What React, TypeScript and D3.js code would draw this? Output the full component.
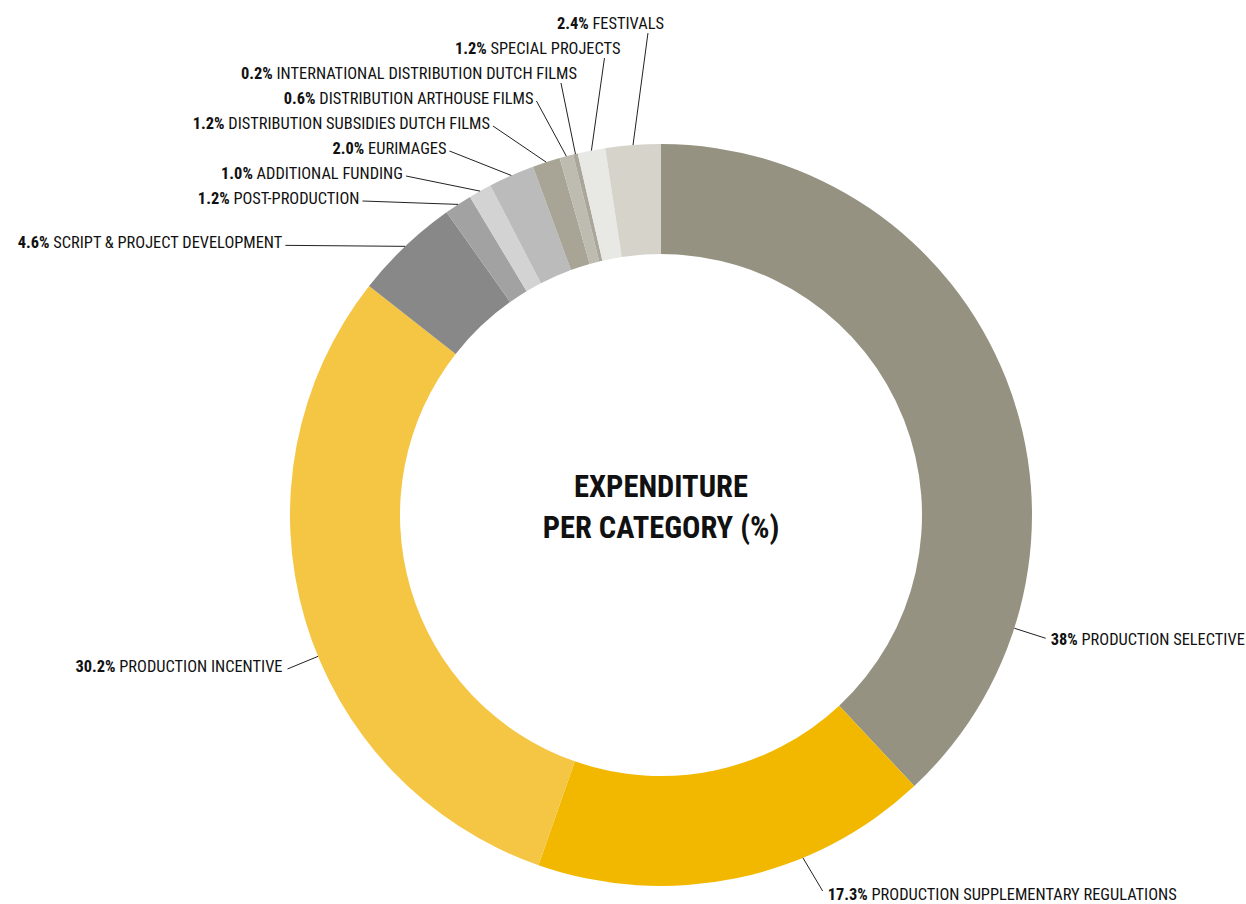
import React, { useRef, useEffect } from 'react';
import * as d3 from 'd3';

// data, clockwise from 12 o'clock
const categories = [
  'PRODUCTION SELECTIVE',
  'PRODUCTION SUPPLEMENTARY REGULATIONS',
  'PRODUCTION INCENTIVE',
  'SCRIPT & PROJECT DEVELOPMENT',
  'POST-PRODUCTION',
  'ADDITIONAL FUNDING',
  'EURIMAGES',
  'DISTRIBUTION SUBSIDIES DUTCH FILMS',
  'DISTRIBUTION ARTHOUSE FILMS',
  'INTERNATIONAL DISTRIBUTION DUTCH FILMS',
  'SPECIAL PROJECTS',
  'FESTIVALS',
];
const values = [38, 17.3, 30.2, 4.6, 1.2, 1.0, 2.0, 1.2, 0.6, 0.2, 1.2, 2.4];
const valueLabels = ['38%', '17.3%', '30.2%', '4.6%', '1.2%', '1.0%', '2.0%', '1.2%', '0.6%', '0.2%', '1.2%', '2.4%'];
const colors = [
  '#959281', '#f2b800', '#f5c544', '#888888', '#a2a2a2', '#d3d3d3',
  '#bbbbbb', '#a8a596', '#bebbb0', '#aaa79a', '#e8e8e5', '#d6d3cb',
];
// where along a big slice its leader line sits (0..1)
const bigAnchor = [0.787, 0.33, 0.444];

const FONT = "'Roboto Condensed', 'Liberation Sans Narrow', 'DejaVu Sans Condensed', Roboto, sans-serif";

const Donut = () => {
  const ref = useRef(null);

  useEffect(() => {
    const width = 1246;
    const height = 904;
    const cx = 661;
    const cy = 515;
    const rOuter = 371;
    const rInner = 261;

    const root = d3.select(ref.current);
    root.selectAll('*').remove();
    root.attr('width', width).attr('height', height);

    const data = categories.map((c, i) => ({ name: c, value: values[i], label: valueLabels[i], color: colors[i] }));

    const pie = d3.pie<any>().sort(null).value(d => d.value);
    const arcs = pie(data);
    const arc = d3.arc<any>().innerRadius(rInner).outerRadius(rOuter);

    const g = root.append('g').attr('transform', `translate(${cx},${cy})`);
    g.selectAll('path')
      .data(arcs)
      .enter()
      .append('path')
      .attr('d', arc)
      .attr('fill', d => d.data.color);

    const pt = (a, r) => [cx + r * Math.sin(a), cy - r * Math.cos(a)];

    const lines = root.append('g').attr('stroke', '#222').attr('stroke-width', 1).attr('fill', 'none');
    const texts = root.append('g').style('font-family', FONT).style('font-size', '16.4px').attr('fill', '#111');

    const addLabel = (x, y, anchor, d) => {
      const t = texts.append('text').attr('x', x).attr('y', y + 6).attr('text-anchor', anchor);
      t.append('tspan').attr('font-weight', 700).text(d.data.label);
      t.append('tspan').text(' ' + d.data.name);
    };

    // big slices: short leaders
    arcs.slice(0, 3).forEach((d, i) => {
      const a = d.startAngle + (d.endAngle - d.startAngle) * bigAnchor[i];
      const len = i === 1 ? 36 : 33;
      const p0 = pt(a, rOuter);
      const p1 = pt(a, rOuter + len);
      if (i === 1) p1[0] += 6; // bottom leader leans right a little
      lines.append('line').attr('x1', p0[0]).attr('y1', p0[1]).attr('x2', p1[0]).attr('y2', p1[1]);
      if (p1[0] > cx) {
        addLabel(p1[0] + 5, p1[1] + (i === 1 ? 3 : 1), 'start', d);
      } else {
        addLabel(p1[0] - 5, p1[1] - 3, 'end', d);
      }
    });

    // small slices: stacked labels, ends along a slanted line
    const small = arcs.slice(3);
    let prevY = Infinity;
    small.forEach(d => {
      const a = (d.startAngle + d.endAngle) / 2;
      const p = pt(a, rOuter);
      const y = Math.min(p[1] - 4, prevY - 25);
      prevY = Math.min(y, 223);
      const endX = 704 - 1.74 * y;
      addLabel(endX, y, 'end', d);
      let sx, sy;
      if (p[0] > endX + 10) {
        sx = endX + 3;
        sy = y + 3;
      } else {
        sx = endX - 16;
        sy = y + 10;
      }
      lines.append('line').attr('x1', sx).attr('y1', sy).attr('x2', p[0]).attr('y2', p[1]);
    });

    // centre title
    const title = root.append('g')
      .style('font-family', FONT)
      .style('font-size', '30.5px')
      .style('font-weight', 700)
      .attr('fill', '#111')
      .attr('text-anchor', 'middle');
    title.append('text').attr('x', cx).attr('y', 497).text('EXPENDITURE');
    title.append('text').attr('x', cx).attr('y', 538).text('PER CATEGORY (%)');
  }, []);

  return <svg ref={ref} style={{ position: 'absolute', left: 0, top: 0 }} />;
};

export default function App() {
  return <Donut />;
}
